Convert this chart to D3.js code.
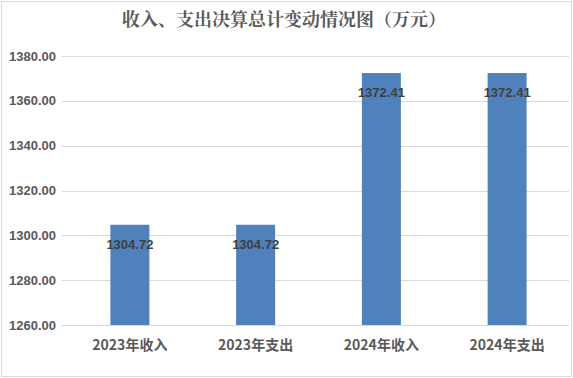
<!DOCTYPE html>
<head>
<meta charset="utf-8">
<script src="https://d3js.org/d3.v7.min.js"></script>
<style>
body { margin:0; background:#fff; }
</style>
</head>
<body>
<script>

var categories = ["2023年收入", "2023年支出", "2024年收入", "2024年支出"];
var values = [1304.72, 1304.72, 1372.41, 1372.41];
var yTicks = [1260, 1280, 1300, 1320, 1340, 1360, 1380];
var title = "收入、支出决算总计变动情况图（万元）";

var width = 573,
  height = 378;

var svg = d3.select("body").append("svg")
    .attr("width", width)
    .attr("height", height);

svg.append("rect")
    .attr("x", 1.5).attr("y", 1.5)
    .attr("width", width - 3).attr("height", height - 3)
    .style("fill", "#fff")
    .style("stroke", "#d9d9d9");

var x = d3.scaleBand()
    .domain(categories)
    .range([67, 570])
    .paddingInner(0.69)
    .paddingOuter(0.345);

var y = d3.scaleLinear()
    .domain([1260, 1380])
    .range([325, 56]);

svg.append("text")
    .attr("x", 284)
    .attr("y", 26)
    .attr("text-anchor", "middle")
    .style("font-family", "'Noto Serif CJK SC', 'Noto Sans CJK SC', serif")
    .style("font-weight", "bold")
    .style("font-size", "18px")
    .style("fill", "#595959")
    .text(title);

svg.append("g")
  .selectAll("line")
  .data(yTicks)
  .enter().append("line")
    .attr("x1", 62).attr("x2", 569)
    .attr("y1", function(d) { return Math.round(y(d)) + 0.5; })
    .attr("y2", function(d) { return Math.round(y(d)) + 0.5; })
    .style("stroke", "#d9d9d9");

svg.append("g")
  .selectAll("text")
  .data(yTicks)
  .enter().append("text")
    .attr("x", 56)
    .attr("y", function(d) { return y(d) + 4.5; })
    .attr("text-anchor", "end")
    .style("font-family", "'Liberation Sans', Arial, sans-serif")
    .style("font-weight", "bold")
    .style("font-size", "13px")
    .style("fill", "#595959")
    .text(function(d) { return d.toFixed(2); });

svg.append("g")
  .selectAll("rect")
  .data(values)
  .enter().append("rect")
    .attr("x", function(d, i) { return x(categories[i]); })
    .attr("width", x.bandwidth())
    .attr("y", function(d) { return y(d); })
    .attr("height", function(d) { return y(1260) - y(d); })
    .style("fill", "#4f81bd");

svg.append("g")
  .selectAll("text")
  .data(values)
  .enter().append("text")
    .attr("x", function(d, i) { return x(categories[i]) + x.bandwidth() / 2; })
    .attr("y", function(d) { return y(d) + 24; })
    .attr("text-anchor", "middle")
    .style("font-family", "'Liberation Sans', Arial, sans-serif")
    .style("font-weight", "bold")
    .style("font-size", "13px")
    .style("fill", "#404040")
    .text(function(d) { return d.toFixed(2); });

svg.append("g")
  .selectAll("text")
  .data(categories)
  .enter().append("text")
    .attr("x", function(d) { return x(d) + x.bandwidth() / 2; })
    .attr("y", 350)
    .attr("text-anchor", "middle")
    .style("font-family", "'Noto Sans CJK SC', sans-serif")
    .style("font-weight", "bold")
    .style("font-size", "14px")
    .style("fill", "#595959")
    .text(function(d) { return d; });

</script>
</body>
